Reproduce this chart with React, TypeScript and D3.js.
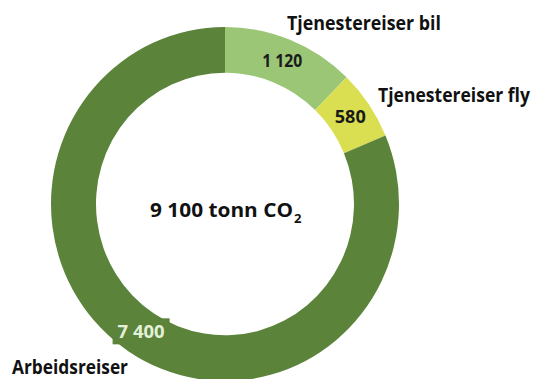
import React from "react";
import * as d3 from "d3";

// Emissions from travel, tonnes CO2
const categories = ["Tjenestereiser bil", "Tjenestereiser fly", "Arbeidsreiser"];
const values = [1120, 580, 7400];
const valueLabels = ["1 120", "580", "7 400"];
const totalLabel = "9 100 tonn CO";

const W = 534;
const H = 379;
const cx = 225;
const cy = 204;
const rOuter = 174;
const rInner = 129;
const yStretch = 177 / 174;

const fills = ["#9bc676", "#dadf52", "#5b833a"];
const valueColors = ["#1a1a1a", "#1a1a1a", "#e4f1d9"];
const FONT = "'Open Sans', Lato, sans-serif";

// Category name placement (left x, baseline y, width)
const namePos = [
  { x: 287, y: 30, w: 154 },
  { x: 378, y: 102, w: 152 },
  { x: 12, y: 374, w: 116 },
];
const valueWidths = [40, 31, 47];
// Name labels use a compact size, stretched vertically to the bold heading height
const nameSize = 16;
const nameStretch = 1.18;

export default function App() {
  const data = categories.map((c, i) => ({ name: c, value: values[i], label: valueLabels[i] }));
  const pie = d3
    .pie<any>()
    .sort(null)
    .value((d) => d.value);
  const arcs = pie(data);
  const arc = d3.arc<any>().innerRadius(rInner).outerRadius(rOuter);

  return (
    <svg
      width={W}
      height={H}
      style={{ position: "fixed", left: 0, top: 0, background: "#fff" }}
    >
      <g transform={`translate(${cx},${cy}) scale(1,${yStretch})`}>
        {arcs.map((a, i) => (
          <path key={i} d={arc(a) as string} fill={fills[i]} />
        ))}
      </g>
      {arcs.map((a, i) => {
        const [x, y] = arc.centroid(a);
        const px = cx + x;
        const py = cy + y * yStretch;
        const w = valueWidths[i];
        return (
          <g key={"v" + i}>
            {i === 2 && (
              <rect x={px - w / 2 - 5} y={py - 14} width={w + 10} height={26} fill={fills[2]} />
            )}
            <text
              x={px - w / 2}
              y={py + 6}
              textLength={w}
              lengthAdjust="spacingAndGlyphs"
              fontFamily={FONT}
              fontWeight={700}
              fontSize={17}
              fill={valueColors[i]}
            >
              {a.data.label}
            </text>
          </g>
        );
      })}
      {categories.map((c, i) => (
        <text
          key={"n" + i}
          transform={`translate(${namePos[i].x},${namePos[i].y}) scale(1,${nameStretch})`}
          textLength={namePos[i].w}
          lengthAdjust="spacingAndGlyphs"
          fontFamily={FONT}
          fontWeight={700}
          fontSize={nameSize}
          fill="#111"
        >
          {c}
        </text>
      ))}
      <text
        x={150}
        y={217}
        textLength={143}
        lengthAdjust="spacingAndGlyphs"
        fontFamily={FONT}
        fontWeight={700}
        fontSize={20}
        fill="#111"
      >
        {totalLabel}
      </text>
      <text x={294} y={223} fontFamily={FONT} fontWeight={700} fontSize={13} fill="#111">
        2
      </text>
    </svg>
  );
}
